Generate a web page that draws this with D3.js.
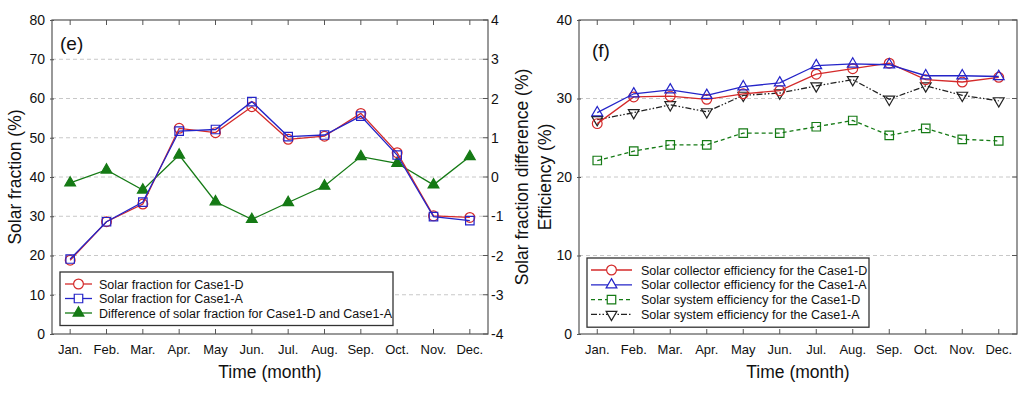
<!DOCTYPE html>
<html>
  <head>
    <meta charset="utf-8" />
    <title>solar fraction and efficiency</title>
    <script src="https://cdn.jsdelivr.net/npm/d3@7"></script>
    <style type="text/css">
      body { margin: 0; background: #fff; }
      text { font-family: Arial, "Liberation Sans", sans-serif; fill: #111; }
    </style>
  </head>
  <body>
    <svg id="chart" width="1024" height="394"></svg>
    <script type="text/javascript">
      // month labels
      var months = ['Jan.', 'Feb.', 'Mar.', 'Apr.', 'May', 'Jun.', 'Jul.', 'Aug.', 'Sep.', 'Oct.', 'Nov.', 'Dec.'];

      // panel (e)
      var fracD = [18.8, 28.6, 33.1, 52.4, 51.3, 57.9, 49.6, 50.4, 56.2, 46.2, 30.1, 29.7];
      var fracA = [19.1, 28.6, 33.6, 51.7, 52.1, 59.2, 50.3, 50.7, 55.5, 45.6, 29.9, 28.9];
      var fracDiff = [-0.15, 0.18, -0.33, 0.56, -0.63, -1.08, -0.65, -0.23, 0.52, 0.35, -0.2, 0.52];
      var fracTicks = [0, 10, 20, 30, 40, 50, 60, 70, 80];
      var diffTicks = [-4, -3, -2, -1, 0, 1, 2, 3, 4];

      // panel (f)
      var collD = [26.8, 30.2, 30.3, 29.9, 30.6, 31.0, 33.1, 33.8, 34.5, 32.4, 32.1, 32.7];
      var collA = [28.2, 30.6, 31.1, 30.4, 31.5, 32.0, 34.2, 34.4, 34.3, 32.9, 32.9, 32.8];
      var sysD = [22.1, 23.3, 24.1, 24.1, 25.6, 25.6, 26.4, 27.2, 25.3, 26.2, 24.8, 24.6];
      var sysA = [27.3, 28.2, 29.2, 28.3, 30.4, 30.7, 31.6, 32.4, 29.9, 31.6, 30.4, 29.7];
      var effTicks = [0, 10, 20, 30, 40];

      var svg = d3.select('#chart');
      var top0 = 20, bot0 = 334;
      var frameCol = '#555';

      var RED = '#d42a2a', BLUE = '#2424c8', GREEN = '#157a15', BLACK = '#222';

      var sym = {
        circle: d3.symbol().type(d3.symbolCircle).size(75),
        square: d3.symbol().type(d3.symbolSquare).size(72),
        tri: d3.symbol().type(d3.symbolTriangle).size(50),
      };

      function marker(g, kind, x, y, col, filled) {
        var p = g.append('path')
          .attr('transform', 'translate(' + x + ',' + y + ')' + (kind == 'down' ? ' rotate(180)' : ''))
          .attr('d', kind == 'down' ? sym.tri() : sym[kind]())
          .attr('stroke', col)
          .attr('stroke-width', 1.2)
          .attr('fill', filled ? col : 'none');
        return p;
      }

      function panel(x0, x1, yDomain, yTicks) {
        var sx = d3.scalePoint().domain(months).range([x0, x1]).padding(0.5);
        var sy = d3.scaleLinear().domain(yDomain).range([bot0, top0]);
        var g = svg.append('g');

        // dashed grid
        g.selectAll('line.grid')
          .data(yTicks.filter((t) => t > yDomain[0] && t < yDomain[1]))
          .enter().append('line')
          .attr('x1', x0).attr('x2', x1)
          .attr('y1', (d) => sy(d)).attr('y2', (d) => sy(d))
          .attr('stroke', '#c8c8c8').attr('stroke-dasharray', '4,3').attr('stroke-width', 1);

        // frame
        g.append('rect')
          .attr('x', x0).attr('y', top0)
          .attr('width', x1 - x0).attr('height', bot0 - top0)
          .attr('fill', 'none').attr('stroke', frameCol).attr('stroke-width', 1.2);

        // month ticks bottom and top, inward
        months.forEach(function (m) {
          g.append('line').attr('x1', sx(m)).attr('x2', sx(m)).attr('y1', bot0).attr('y2', bot0 - 5)
            .attr('stroke', frameCol);
          g.append('line').attr('x1', sx(m)).attr('x2', sx(m)).attr('y1', top0).attr('y2', top0 + 5)
            .attr('stroke', frameCol);
        });

        // left ticks + labels
        var ax = d3.axisLeft(sy).tickValues(yTicks).tickSize(3).tickPadding(4);
        var ga = g.append('g').attr('transform', 'translate(' + x0 + ',0)').call(ax);
        ga.select('.domain').remove();
        ga.selectAll('line').attr('stroke', frameCol).attr('x2', 2).attr('x1', -2);
        ga.selectAll('text').style('font-size', '14px').attr('x', -7);

        // month labels
        g.selectAll('text.month').data(months).enter().append('text')
          .attr('x', (d) => sx(d)).attr('y', 354)
          .attr('text-anchor', 'middle').style('font-size', '13px').text((d) => d);

        g.append('text')
          .attr('x', (x0 + x1) / 2).attr('y', 378)
          .attr('text-anchor', 'middle').style('font-size', '17.5px').text('Time (month)');

        return { g: g, sx: sx, sy: sy };
      }

      function series(p, vals, sy, col, dash, kind, filled) {
        var line = d3.line().x((d, i) => p.sx(months[i])).y((d) => sy(d));
        p.g.append('path').datum(vals).attr('d', line)
          .attr('fill', 'none').attr('stroke', col).attr('stroke-width', 1.3)
          .attr('stroke-dasharray', dash);
        vals.forEach(function (v, i) {
          marker(p.g, kind, p.sx(months[i]), sy(v), col, filled);
        });
      }

      function legend(g, x, y, w, rowH, items, lx0, lx1, tx) {
        var h = rowH * items.length + 10;
        g.append('rect').attr('x', x).attr('y', y).attr('width', w).attr('height', h)
          .attr('fill', '#fff').attr('stroke', '#333').attr('stroke-width', 1.3);
        items.forEach(function (it, i) {
          var cy = y + 12 + rowH * i;
          g.append('line').attr('x1', lx0).attr('x2', lx1).attr('y1', cy).attr('y2', cy)
            .attr('stroke', it.col).attr('stroke-width', 1.3).attr('stroke-dasharray', it.dash);
          var mx = (lx0 + lx1) / 2;
          var m = marker(g, it.kind, mx, cy, it.col, it.filled);
          if (!it.filled) m.attr('fill', '#fff');
          g.append('text').attr('x', tx).attr('y', cy + 4.5)
            .style('font-size', '12.5px').text(it.label);
        });
      }

      // ---- panel (e)
      var pe = panel(52, 488, [0, 80], fracTicks);
      var syR = d3.scaleLinear().domain([-4, 4]).range([bot0, top0]);
      diffTicks.forEach(function (t) {
        pe.g.append('line').attr('x1', 488).attr('x2', 483).attr('y1', syR(t)).attr('y2', syR(t))
          .attr('stroke', frameCol);
        pe.g.append('text').attr('x', 491).attr('y', syR(t) + 5)
          .style('font-size', '14px').text(t < 0 ? '-' + Math.abs(t) : t);
      });
      series(pe, fracDiff, syR, GREEN, null, 'tri', true);
      series(pe, fracD, pe.sy, RED, null, 'circle', false);
      series(pe, fracA, pe.sy, BLUE, null, 'square', false);

      pe.g.append('text').attr('x', 60).attr('y', 50).style('font-size', '19px').text('(e)');
      pe.g.append('text')
        .attr('transform', 'translate(21,177) rotate(-90)')
        .attr('text-anchor', 'middle').style('font-size', '17.5px').text('Solar fraction (%)');
      pe.g.append('text')
        .attr('transform', 'translate(528,177) rotate(-90)')
        .attr('text-anchor', 'middle').style('font-size', '17.5px').text('Solar fraction difference (%)');

      legend(pe.g, 60, 272, 333, 14.5, [
        { label: 'Solar fraction for Case1-D', col: RED, kind: 'circle', filled: false },
        { label: 'Solar fraction for Case1-A', col: BLUE, kind: 'square', filled: false },
        { label: 'Difference of solar fraction for Case1-D and Case1-A', col: GREEN, kind: 'tri', filled: true },
      ], 65, 92, 99);

      // ---- panel (f)
      var pf = panel(579, 1017, [0, 40], effTicks);
      effTicks.forEach(function (t) {
        pf.g.append('line').attr('x1', 1017).attr('x2', 1012).attr('y1', pf.sy(t)).attr('y2', pf.sy(t))
          .attr('stroke', frameCol);
      });
      series(pf, sysD, pf.sy, GREEN, '4,3', 'square', false);
      series(pf, sysA, pf.sy, BLACK, '6,2,1.5,2,1.5,2', 'down', false);
      series(pf, collD, pf.sy, RED, null, 'circle', false);
      series(pf, collA, pf.sy, BLUE, null, 'tri', false);

      pf.g.append('text').attr('x', 592).attr('y', 57).style('font-size', '19px').text('(f)');
      pf.g.append('text')
        .attr('transform', 'translate(551,177) rotate(-90)')
        .attr('text-anchor', 'middle').style('font-size', '17.5px').text('Efficiency (%)');

      legend(pf.g, 587, 258, 282, 14.8, [
        { label: 'Solar collector efficiency for the Case1-D', col: RED, kind: 'circle', filled: false },
        { label: 'Solar collector efficiency for the Case1-A', col: BLUE, kind: 'tri', filled: false },
        { label: 'Solar system efficiency for the Case1-D', col: GREEN, kind: 'square', filled: false, dash: '4,3' },
        { label: 'Solar system efficiency for the Case1-A', col: BLACK, kind: 'down', filled: false, dash: '6,2,1.5,2,1.5,2' },
      ], 591, 632, 641);
    </script>
  </body>
</html>
